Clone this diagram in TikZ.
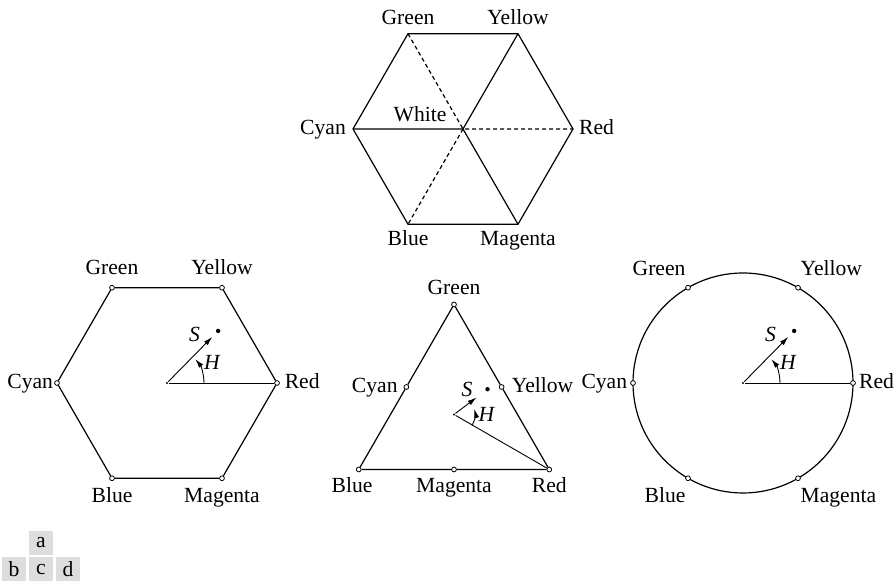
\documentclass[tikz,border=0pt]{standalone}
\usepackage{fontspec}
\setmainfont{Liberation Serif}
\usetikzlibrary{positioning,arrows.meta}

\tikzset{
  vtx/.style={circle, draw, fill=white, line width=0.4pt, inner sep=0pt, minimum size=2.4pt},
  lab/.style={inner sep=0pt, text height=7.4pt, text depth=2.3pt},
  var/.style={inner sep=0pt, font=\fontsize{10.8}{13}\selectfont\itshape},
  cdot/.style={circle, fill, inner sep=0pt, minimum size=1.2pt},
  sdot/.style={circle, fill, inner sep=0pt, minimum size=2.2pt},
  hid/.style={dash pattern=on 2pt off 1.5pt},
  ray/.style={line width=0.45pt},
  vec/.style={line width=0.45pt, -{Latex[length=4.5pt,width=2.6pt]}},
  tag/.style={fill=gray!27, minimum size=12pt, inner sep=0pt}
}

\begin{document}
\begin{tikzpicture}[x=0.5pt, y=0.5pt, line width=0.6pt, font=\fontsize{10.8}{13}\selectfont]
\useasboundingbox (0,0) rectangle (894,581);

\begin{scope}[shift={(463,452)}]
  \coordinate (aW) at (0,0);
  \coordinate (aR) at (0:110);
  \coordinate (aY) at (60:110);
  \coordinate (aG) at (120:110);
  \coordinate (aC) at (180:110);
  \coordinate (aB) at (240:110);
  \coordinate (aM) at (300:110);
  \draw (aR) -- (aY) -- (aG) -- (aC) -- (aB) -- (aM) -- cycle;
  \draw (aC) -- (aW) -- (aY) (aW) -- (aM);
  \draw[hid] (aG) -- (aW) -- (aR) (aW) -- (aB);
  \node[lab, above=1.85pt of aG] (aGt) {Green};
  \node[lab, above=1.85pt of aY] (aYt) {Yellow};
  \node[lab, left=3.3pt of aC] (aCt) {Cyan};
  \node[lab, right=2.8pt of aR] (aRt) {Red};
  \node[lab, below=2.9pt of aB] (aBt) {Blue};
  \node[lab, below=2.9pt of aM] (aMt) {Magenta};
  \node[lab] (aWt) at (-43,12.4) {White};
\end{scope}

\begin{scope}[shift={(167,198)}]
  \node[vtx] (bR) at (0:110) {};
  \node[vtx] (bY) at (60:110) {};
  \node[vtx] (bG) at (120:110) {};
  \node[vtx] (bC) at (180:110) {};
  \node[vtx] (bB) at (240:110) {};
  \node[vtx] (bM) at (300:110) {};
  \node[cdot] (bO) at (0,0) {};
  \node[sdot] (bS) at (45.5:73) {};
  \draw (bR) -- (bY) -- (bG) -- (bC) -- (bB) -- (bM) -- (bR);
  \draw[ray] (bO) -- (bR);
  \draw[vec, shorten >=2.8pt] (bO) -- (bS);
  \draw[vec] ([shift={(0:37)}]bO.center) arc[start angle=0, end angle=40, radius=37];
  \node[var] (bSt) at (27.5,49) {S};
  \node[var] (bHt) at (45,21) {H};
  \node[lab, above=2.4pt of bG] (bGt) {Green};
  \node[lab, above=2.4pt of bY] (bYt) {Yellow};
  \node[lab, left=0.3pt of bC] (bCt) {Cyan};
  \node[lab, right=2.2pt of bR] (bRt) {Red};
  \node[lab, below=3.2pt of bB] (bBt) {Blue};
  \node[lab, below=3.2pt of bM] (bMt) {Magenta};
\end{scope}

\begin{scope}[shift={(454,166.5)}]
  \node[vtx] (cG) at (90:110) {};
  \node[vtx] (cB) at (210:110) {};
  \node[vtx] (cR) at (330:110) {};
  \node[vtx] (cC) at (150:55) {};
  \node[vtx] (cY) at (30:55) {};
  \node[vtx] (cM) at (270:55) {};
  \node[cdot] (cO) at (0,0) {};
  \node[sdot] (cS) at (37:42) {};
  \draw (cG) -- (cC) -- (cB) -- (cM) -- (cR) -- (cY) -- (cG);
  \draw[ray] (cO) -- (cR);
  \draw[vec, shorten >=5.5pt] (cO) -- (cS);
  \draw[vec] ([shift={(-30:21)}]cO.center) arc[start angle=-30, end angle=15, radius=21];
  \node[var] (cSt) at (13,25.5) {S};
  \node[var] (cHt) at (32.5,0) {H};
  \node[lab, above=0.75pt of cG] (cGt) {Green};
  \node[lab, left=2.7pt of cC] (cCt) {Cyan};
  \node[lab, right=3.4pt of cY] (cYt) {Yellow};
  \node[lab, below=2.35pt of cB, xshift=-3.3pt] (cBt) {Blue};
  \node[lab, below=2.35pt of cM] (cMt) {Magenta};
  \node[lab, below=2.35pt of cR] (cRt) {Red};
\end{scope}

\begin{scope}[shift={(743,198)}]
  \node[cdot] (dO) at (0,0) {};
  \draw (dO.center) circle[radius=110];
  \node[vtx] (dR) at (0:110) {};
  \node[vtx] (dY) at (60:110) {};
  \node[vtx] (dG) at (120:110) {};
  \node[vtx] (dC) at (180:110) {};
  \node[vtx] (dB) at (240:110) {};
  \node[vtx] (dM) at (300:110) {};
  \node[sdot] (dS) at (45.5:73) {};
  \draw[ray] (dO) -- (dR);
  \draw[vec, shorten >=2.8pt] (dO) -- (dS);
  \draw[vec] ([shift={(0:37)}]dO.center) arc[start angle=0, end angle=40, radius=37];
  \node[var] (dSt) at (27.5,49) {S};
  \node[var] (dHt) at (45,21) {H};
  \node[lab, above left=2.7pt and 0pt of dG] (dGt) {Green};
  \node[lab, above right=2.7pt and 0pt of dY] (dYt) {Yellow};
  \node[lab, left=1.25pt of dC] (dCt) {Cyan};
  \node[lab, right=1.4pt of dR] (dRt) {Red};
  \node[lab, below left=3.5pt and 0pt of dB] (dBt) {Blue};
  \node[lab, below right=3.5pt and 0pt of dM] (dMt) {Magenta};
\end{scope}

\node[tag] (ta) at (41,38.3) {a};
\node[tag] (tb) at (14,11.7) {b};
\node[tag] (tc) at (41,11.7) {c};
\node[tag] (td) at (68,11.7) {d};
\end{tikzpicture}
\end{document}
